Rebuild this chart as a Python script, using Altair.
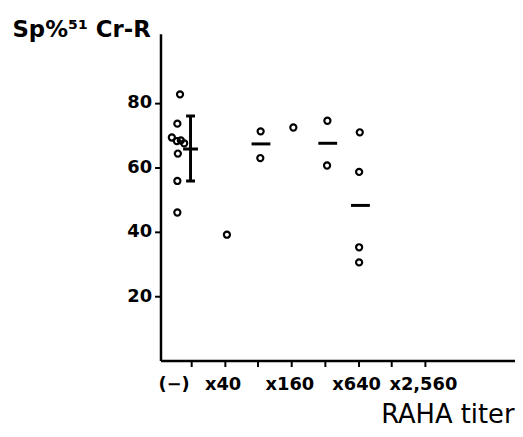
import altair as alt
import pandas as pd

# x positions on a log2 titer scale: 1 = x20, 2 = x40, 3 = x80, 4 = x160, 5 = x320, 6 = x640, 7 = x1,280, 8 = x2,560
# the (-) group sits left of tick 1
pt_x = [0.665, 0.585, 0.42, 0.57, 0.69, 0.79, 0.60, 0.585, 0.585,
        2.07, 3.08, 3.07, 4.06, 5.08, 5.07, 6.05, 6.03, 6.03, 6.03]
pt_y = [82.7, 73.6, 69.3, 68.2, 68.4, 67.5, 64.3, 55.8, 46.0,
        39.1, 71.2, 62.9, 72.4, 74.5, 60.6, 70.9, 58.6, 35.2, 30.5]

mean_x = [3.09, 5.09, 6.07]
mean_y = [67.3, 67.5, 48.2]

# (-) group: mean and +/- SD bar
neg_x = [0.98]
neg_mean = [65.7]
neg_lo = [55.8]
neg_hi = [76.0]

tick_vals = [1, 2, 3, 4, 5, 6, 7, 8]
tick_text = {1: "(\u2212)", 2: "x40", 4: "x160", 6: "x640", 8: "x2,560"}

y_ticks = [20, 40, 60, 80]

label_expr = " : ".join(
    [f"datum.value == {k} ? '{v}'" for k, v in tick_text.items()]
) + " : ''"

points = pd.DataFrame({"x": pt_x, "y": pt_y})
means = pd.DataFrame({"x": mean_x, "y": mean_y})
neg = pd.DataFrame({"x": neg_x, "m": neg_mean, "lo": neg_lo, "hi": neg_hi})

xscale = alt.Scale(domain=[0.08, 10.7], nice=False, zero=False)
yscale = alt.Scale(domain=[0, 101.5], nice=False, zero=False)

FONT = "DejaVu Sans"

xaxis = alt.Axis(
    values=tick_vals,
    labelExpr=label_expr,
    grid=False,
    domainColor="black",
    domainWidth=2.5,
    tickColor="black",
    tickWidth=2,
    tickSize=6,
    labelFont=FONT,
    labelFontSize=18,
    labelFontWeight="bold",
    labelColor="black",
    labelPadding=9,
    labelOffset=-2,
    labelAlign={"condition": {"test": "datum.value == 1", "value": "right"}, "value": "center"},
    labelOverlap=False,
    labelFlush=False,
    labelBound=False,
    title="RAHA titer",
    titleFont=FONT,
    titleFontSize=26,
    titleFontWeight="normal",
    titleColor="black",
    titleAngle=0,
    titleAlign="right",
    titleBaseline="alphabetic",
    titleX=357,
    titleY=63,
)

yaxis = alt.Axis(
    values=y_ticks,
    grid=False,
    domainColor="black",
    domainWidth=2.5,
    tickColor="black",
    tickWidth=2,
    tickSize=6,
    labelFont=FONT,
    labelFontSize=18,
    labelFontWeight="bold",
    labelColor="black",
    labelPadding=3,
    labelOverlap=False,
    labelFlush=False,
    labelBound=False,
    title="Sp%\u2075\u00b9 Cr-R",
    titleFont=FONT,
    titleFontSize=23,
    titleFontWeight="bold",
    titleColor="black",
    titleAngle=0,
    titleAlign="left",
    titleBaseline="alphabetic",
    titleX=-150,
    titleY=3,
)

base_pts = alt.Chart(points).mark_point(
    shape="circle", filled=False, size=38, strokeWidth=2.2, color="black", opacity=1
).encode(
    x=alt.X("x:Q", scale=xscale, axis=xaxis),
    y=alt.Y("y:Q", scale=yscale, axis=yaxis),
)

mean_ticks = alt.Chart(means).mark_tick(
    orient="horizontal", size=19, thickness=3, color="black", opacity=1
).encode(x=alt.X("x:Q", scale=xscale), y=alt.Y("y:Q", scale=yscale))

neg_rule = alt.Chart(neg).mark_rule(strokeWidth=3, color="black").encode(
    x=alt.X("x:Q", scale=xscale),
    y=alt.Y("lo:Q", scale=yscale),
    y2="hi:Q",
)
neg_cap_lo = alt.Chart(neg).mark_tick(
    orient="horizontal", size=9, thickness=3, color="black", opacity=1
).encode(x=alt.X("x:Q", scale=xscale), y=alt.Y("lo:Q", scale=yscale))
neg_cap_hi = alt.Chart(neg).mark_tick(
    orient="horizontal", size=9, thickness=3, color="black", opacity=1
).encode(x=alt.X("x:Q", scale=xscale), y=alt.Y("hi:Q", scale=yscale))
neg_mean_tick = alt.Chart(neg).mark_tick(
    orient="horizontal", size=15, thickness=3, color="black", opacity=1
).encode(x=alt.X("x:Q", scale=xscale), y=alt.Y("m:Q", scale=yscale))

chart = alt.layer(
    base_pts, mean_ticks, neg_rule, neg_cap_lo, neg_cap_hi, neg_mean_tick
).properties(
    width=358,
    height=330,
    autosize=alt.AutoSizeParams(type="none"),
    padding={"left": 154, "top": 24, "right": 0, "bottom": 66},
    background="white",
).configure_view(stroke=None)

chart.save("out.html", embed_options={"renderer": "svg", "actions": False})
